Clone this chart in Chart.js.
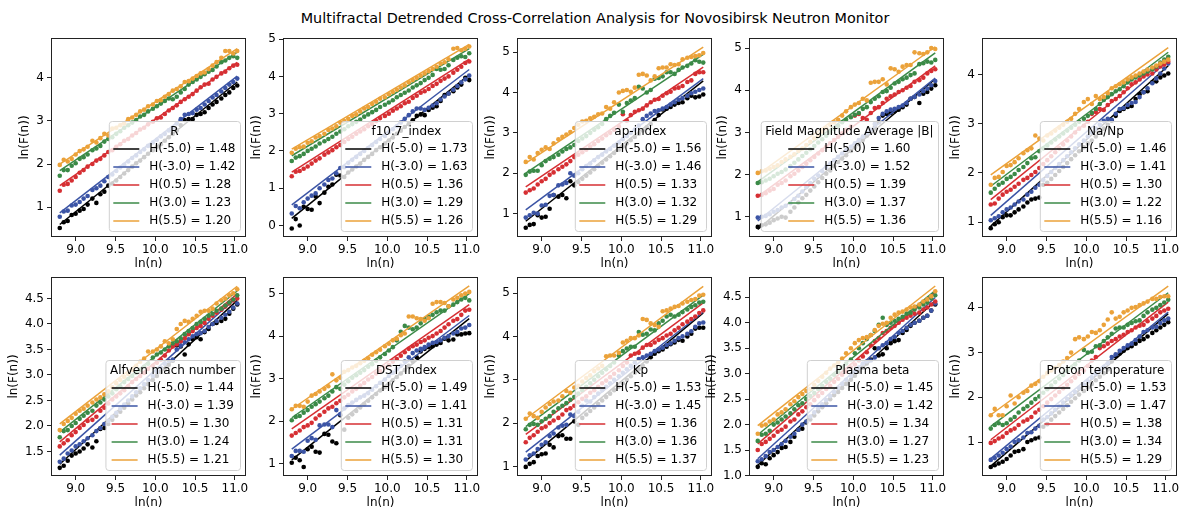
<!DOCTYPE html>
<html>
<head>
<meta charset="utf-8">
<script src="https://cdn.jsdelivr.net/npm/chart.js@4.4.1/dist/chart.umd.min.js"></script>
<style>
  html, body { margin: 0; padding: 0; background: #fff; overflow: hidden; }
  #wrap { position: relative; width: 1182px; height: 509px; }
  #wrap canvas { position: absolute; }
  #title { position: absolute; left: 4px; width: 1182px; top: 10px; text-align: center;
           font: 14.4px "DejaVu Sans"; color: #000; white-space: nowrap; }
</style>
</head>
<body>
<div id="wrap">
  <div id="title">Multifractal Detrended Cross-Correlation Analysis for Novosibirsk Neutron Monitor</div>
</div>
<script>
// scales n, as ln(n)
const lnN = [8.80, 8.85, 8.90, 8.95, 9.00, 9.05, 9.10, 9.15, 9.21, 9.26, 9.31, 9.36, 9.41, 9.46, 9.51,
             9.56, 9.61, 9.66, 9.71, 9.76, 9.81, 9.86, 9.91, 9.97, 10.02, 10.07, 10.12, 10.17, 10.22, 10.27,
             10.32, 10.37, 10.42, 10.47, 10.52, 10.57, 10.62, 10.67, 10.72, 10.77, 10.83, 10.88, 10.93, 10.98, 11.03];
const qOrders = ["-5.0", "-3.0", "0.5", "3.0", "5.5"];
const panelTitles = ["R", "f10.7_index", "ap-index", "Field Magnitude Average |B|", "Na/Np",
                     "Alfven mach number", "DST Index", "Kp", "Plasma beta", "Proton temperature"];

// ln(F(n)) for q = -5.0, -3.0, 0.5, 3.0, 5.5
const lnF_R = [
  [0.52,0.65,0.68,0.82,0.85,0.92,0.96,1.06,1.20,1.10,1.30,1.36,1.50,1.55,1.62,1.70,1.78,1.86,1.94,2.02,2.08,2.16,2.24,2.32,2.40,2.46,2.54,2.62,2.70,2.78,2.90,3.02,3.04,3.04,3.14,3.16,3.20,3.30,3.38,3.44,3.52,3.60,3.66,3.76,3.82],
  [0.78,0.90,0.92,1.04,1.06,1.12,1.20,1.26,1.40,1.44,1.50,1.60,1.70,1.76,1.84,1.92,1.98,2.06,2.14,2.20,2.28,2.34,2.42,2.50,2.56,2.64,2.70,2.78,2.84,2.94,3.04,3.14,3.16,3.18,3.26,3.30,3.38,3.46,3.54,3.60,3.68,3.76,3.84,3.90,3.98],
  [1.38,1.52,1.54,1.62,1.70,1.80,1.86,1.94,2.00,2.08,2.12,2.20,2.28,2.32,2.40,2.46,2.54,2.58,2.66,2.72,2.80,2.84,2.92,2.98,3.06,3.08,3.16,3.24,3.30,3.36,3.44,3.50,3.56,3.62,3.70,3.78,3.84,3.86,3.96,4.02,4.10,4.14,4.22,4.28,4.30],
  [1.73,1.86,1.86,1.96,2.02,2.12,2.16,2.22,2.32,2.36,2.42,2.52,2.58,2.62,2.70,2.76,2.84,2.90,2.96,3.02,3.10,3.14,3.22,3.28,3.34,3.40,3.46,3.52,3.50,3.56,3.66,3.74,3.84,3.90,3.96,4.02,4.08,4.14,4.18,4.26,4.36,4.40,4.46,4.50,4.46],
  [1.98,2.10,2.06,2.12,2.22,2.30,2.34,2.40,2.54,2.50,2.60,2.70,2.66,2.82,2.84,2.90,2.94,3.04,3.08,3.14,3.22,3.26,3.34,3.38,3.46,3.48,3.56,3.62,3.70,3.74,3.80,3.90,3.92,3.98,4.04,4.10,4.12,4.20,4.28,4.36,4.46,4.62,4.62,4.56,4.62]
];
const lnF_F107 = [
  [-0.08,0.17,0.00,0.50,0.44,0.42,0.78,0.60,0.88,1.04,1.10,1.36,1.34,1.30,1.42,1.50,1.58,1.66,1.76,1.84,1.92,2.02,2.10,2.20,2.28,2.36,2.46,2.54,2.64,2.72,2.82,2.94,2.98,2.96,3.10,3.16,3.20,3.34,3.50,3.54,3.60,3.70,3.78,3.96,3.90],
  [0.32,0.52,0.46,0.62,0.72,0.80,0.86,1.00,1.10,1.22,1.26,1.40,1.54,1.56,1.68,1.76,1.84,1.92,2.00,2.08,2.16,2.24,2.32,2.40,2.50,2.58,2.66,2.76,2.86,2.96,3.06,3.14,3.14,3.10,3.16,3.22,3.28,3.38,3.46,3.54,3.64,3.74,3.84,3.92,4.02],
  [1.32,1.44,1.46,1.52,1.58,1.66,1.74,1.80,1.90,1.96,2.02,2.10,2.16,2.24,2.32,2.38,2.46,2.52,2.58,2.66,2.72,2.80,2.88,2.94,3.00,3.08,3.14,3.20,3.28,3.32,3.42,3.48,3.56,3.60,3.66,3.74,3.80,3.88,3.94,4.00,4.10,4.18,4.26,4.36,4.40],
  [1.73,1.82,1.86,1.92,2.00,2.06,2.12,2.20,2.26,2.32,2.38,2.46,2.52,2.58,2.66,2.72,2.78,2.84,2.92,2.98,3.04,3.10,3.18,3.24,3.30,3.36,3.44,3.50,3.56,3.62,3.70,3.76,3.82,3.90,3.96,4.04,4.20,4.18,4.20,4.30,4.44,4.50,4.54,4.52,4.62],
  [1.95,2.06,2.10,2.12,2.22,2.26,2.36,2.40,2.46,2.56,2.60,2.66,2.76,2.80,2.86,2.94,2.98,3.06,3.14,3.18,3.26,3.32,3.40,3.44,3.52,3.58,3.64,3.70,3.76,3.84,3.90,3.96,4.02,4.08,4.14,4.20,4.26,4.34,4.38,4.46,4.74,4.76,4.70,4.74,4.80]
];
const lnF_Ap = [
  [0.65,0.72,0.74,0.96,0.90,0.92,1.12,1.46,1.42,1.46,1.38,1.80,1.70,1.78,1.86,1.94,2.02,2.10,2.18,2.26,2.34,2.42,2.50,2.58,2.66,2.74,2.82,2.90,2.98,3.06,3.14,3.22,3.32,3.44,3.58,3.60,3.64,3.70,3.74,3.76,3.86,3.92,3.88,3.90,3.95],
  [0.90,0.96,1.02,1.00,1.20,1.22,1.44,1.46,1.70,1.72,1.76,2.00,1.94,2.00,2.10,2.18,2.24,2.32,2.40,2.46,2.54,2.60,2.68,2.76,2.84,2.92,3.00,3.08,3.18,3.34,3.42,3.48,3.54,3.56,3.60,3.64,3.70,3.76,3.82,3.86,3.92,3.98,4.02,4.06,4.10],
  [1.52,1.58,1.62,1.72,1.80,1.86,1.96,2.02,2.10,2.16,2.22,2.30,2.40,2.46,2.52,2.58,2.66,2.72,2.80,2.86,2.94,3.00,3.08,3.16,3.46,3.30,3.44,3.52,3.56,3.60,3.68,3.76,3.82,3.84,3.92,3.98,4.02,4.10,4.12,4.16,4.26,4.30,4.46,4.50,4.50],
  [1.96,2.04,2.06,2.06,2.20,2.30,2.36,2.40,2.46,2.54,2.60,2.64,2.70,2.80,2.86,2.92,3.00,3.08,3.14,3.22,3.34,3.42,3.50,3.70,3.52,3.74,3.80,3.86,4.14,4.10,4.00,4.06,4.34,4.36,4.40,4.50,4.50,4.46,4.56,4.62,4.66,4.72,4.80,4.76,4.74],
  [2.28,2.40,2.34,2.50,2.58,2.64,2.60,2.74,2.84,2.90,2.96,3.02,3.12,3.20,3.28,3.30,3.36,3.40,3.46,3.48,3.64,3.60,3.76,4.00,4.04,4.06,4.02,4.12,4.44,4.46,4.42,4.30,4.40,4.60,4.62,4.62,4.70,4.68,4.70,4.82,4.86,4.88,4.90,4.92,4.98]
];
const lnF_B = [
  [0.76,0.80,0.82,0.86,0.92,0.96,1.00,0.98,1.12,1.22,1.34,1.44,1.52,1.62,1.72,1.82,1.92,2.02,2.10,2.20,2.30,2.38,2.46,2.56,2.64,2.72,2.82,2.92,3.02,3.12,3.24,3.40,3.44,3.46,3.50,3.54,3.60,3.66,3.80,3.84,3.70,3.92,3.96,4.04,4.12],
  [0.98,1.00,1.02,1.06,1.12,1.16,1.22,1.26,1.32,1.42,1.50,1.60,1.70,1.80,1.90,1.98,2.08,2.18,2.26,2.34,2.42,2.50,2.58,2.66,2.74,2.82,2.90,2.98,3.06,3.20,3.34,3.44,3.50,3.54,3.56,3.60,3.64,3.70,3.80,3.84,3.90,3.98,4.04,4.12,4.22],
  [1.50,1.52,1.56,1.62,1.66,1.76,1.80,1.86,1.96,2.02,2.10,2.18,2.26,2.34,2.42,2.50,2.58,2.66,2.74,2.82,2.90,2.98,3.06,3.14,3.40,3.44,3.34,3.30,3.46,3.58,3.60,3.70,3.80,3.86,3.90,3.96,4.00,4.06,4.10,4.20,4.24,4.30,4.40,4.46,4.50],
  [1.80,1.82,1.86,1.90,1.96,2.02,2.06,2.12,2.20,2.28,2.36,2.44,2.52,2.60,2.68,2.76,2.84,2.92,3.00,3.08,3.16,3.24,3.30,3.36,3.42,3.46,3.56,3.60,3.72,3.80,3.86,3.96,3.98,4.06,4.16,4.20,4.26,4.30,4.36,4.40,4.62,4.64,4.68,4.66,4.72],
  [2.04,2.08,2.10,2.14,2.18,2.22,2.30,2.36,2.42,2.48,2.56,2.62,2.70,2.78,2.86,2.94,3.02,3.10,3.18,3.24,3.30,3.40,3.50,3.60,3.66,3.70,3.80,3.76,4.18,4.20,4.20,4.26,4.14,4.52,4.50,4.44,4.56,4.60,4.60,4.90,4.88,4.86,4.90,5.00,4.98]
];
const lnF_NaNp = [
  [0.88,0.96,1.00,1.10,1.14,1.14,1.20,1.26,1.32,1.40,1.46,1.48,1.50,1.76,1.80,1.88,1.96,2.04,2.12,2.20,2.28,2.36,2.44,2.52,2.60,2.66,2.74,2.82,2.90,2.98,3.06,3.16,3.26,3.30,3.34,3.36,3.50,3.60,3.64,3.66,3.84,3.86,3.94,3.98,4.02],
  [1.04,1.08,1.12,1.20,1.26,1.30,1.36,1.42,1.46,1.56,1.62,1.70,1.76,1.86,1.94,2.02,2.10,2.18,2.26,2.34,2.42,2.50,2.58,2.66,2.74,2.82,2.90,2.98,3.06,3.10,3.08,3.20,3.30,3.32,3.38,3.42,3.44,3.54,3.64,3.72,3.82,3.92,4.02,4.12,4.22],
  [1.36,1.38,1.48,1.56,1.62,1.66,1.72,1.78,1.86,1.90,1.96,2.02,2.10,2.18,2.26,2.34,2.42,2.50,2.58,2.66,2.74,2.82,2.90,2.96,3.04,3.20,3.24,3.30,3.28,3.38,3.46,3.50,3.56,3.64,3.72,3.80,3.84,3.90,3.96,4.00,4.02,4.10,4.16,4.20,4.26],
  [1.60,1.68,1.76,1.80,1.88,1.92,1.98,2.06,2.12,2.20,2.30,2.32,2.44,2.50,2.56,2.62,2.68,2.74,2.80,2.86,2.92,2.98,3.04,3.10,3.16,3.22,3.30,3.40,3.48,3.54,3.60,3.66,3.70,3.76,3.84,3.90,3.94,3.98,4.02,4.06,4.10,4.16,4.24,4.30,4.36],
  [1.76,1.90,1.92,2.02,2.14,2.16,2.22,2.30,2.40,2.46,2.50,2.76,2.70,2.66,2.76,2.80,2.86,2.92,2.98,3.04,3.10,3.20,3.30,3.44,3.50,3.40,3.56,3.50,3.54,3.62,3.72,3.76,3.80,3.84,3.90,3.94,3.98,4.02,4.06,4.10,4.14,4.18,4.22,4.26,4.30]
];
const lnF_Alfven = [
  [1.18,1.22,1.32,1.42,1.46,1.50,1.56,1.64,1.58,1.70,1.94,1.96,2.04,2.12,2.20,2.28,2.36,2.44,2.52,2.60,2.66,2.74,2.82,2.90,2.98,3.06,3.12,3.20,3.28,3.58,3.56,3.40,3.60,3.70,3.74,3.70,3.84,3.90,4.00,4.02,4.06,4.10,4.20,4.30,4.38],
  [1.30,1.36,1.46,1.52,1.60,1.64,1.70,1.76,1.82,1.90,1.96,2.04,2.10,2.18,2.26,2.34,2.42,2.50,2.58,2.66,2.74,2.82,2.90,2.98,3.06,3.14,3.22,3.28,3.30,3.50,3.58,3.64,3.70,3.76,3.80,3.82,3.86,3.94,4.00,4.06,4.12,4.18,4.24,4.32,4.40],
  [1.60,1.66,1.72,1.82,1.88,1.96,2.02,2.10,2.12,2.18,2.30,2.36,2.44,2.52,2.58,2.64,2.70,2.78,2.86,2.92,2.98,3.04,3.12,3.18,3.24,3.30,3.38,3.48,3.56,3.60,3.66,3.72,3.80,3.86,3.92,3.96,4.02,4.10,4.16,4.22,4.28,4.34,4.40,4.46,4.50],
  [1.78,1.90,1.92,2.00,2.06,2.14,2.20,2.26,2.30,2.40,2.46,2.52,2.58,2.64,2.72,2.78,2.86,2.92,2.98,3.04,3.10,3.16,3.22,3.34,3.40,3.44,3.50,3.56,3.62,3.66,3.72,3.80,3.86,3.92,4.00,4.04,4.10,4.16,4.20,4.26,4.30,4.36,4.42,4.48,4.56],
  [1.92,2.04,2.10,2.16,2.24,2.30,2.34,2.40,2.46,2.52,2.56,2.62,2.68,2.76,2.84,2.90,2.96,3.02,3.10,3.18,3.26,3.32,3.46,3.46,3.50,3.56,3.66,3.62,3.70,3.90,4.00,4.06,4.04,4.10,4.16,4.24,4.26,4.26,4.30,4.40,4.46,4.50,4.56,4.60,4.68]
];
const lnF_DST = [
  [1.02,1.14,1.08,0.92,1.34,1.40,1.28,1.26,1.70,1.68,1.52,1.48,2.14,1.80,2.08,2.16,2.24,2.32,2.40,2.48,2.56,2.64,2.72,2.80,2.88,2.96,3.04,3.12,3.20,3.30,3.40,3.50,3.64,3.70,3.74,3.76,3.80,3.84,3.94,3.90,3.92,4.04,4.04,4.06,4.07],
  [1.18,1.30,1.30,1.28,1.54,1.60,1.56,1.90,1.92,1.92,1.86,2.26,2.16,2.30,2.38,2.44,2.50,2.56,2.60,2.66,2.74,2.82,2.90,2.98,3.06,3.14,3.22,3.30,3.40,3.50,3.60,3.66,3.70,3.74,3.80,3.84,3.86,3.90,3.96,4.00,4.06,4.10,4.18,4.20,4.26],
  [1.66,1.72,1.78,1.86,1.90,1.96,2.06,2.14,2.22,2.30,2.34,2.42,2.48,2.56,2.62,2.70,2.76,2.84,2.90,2.98,3.04,3.12,3.18,3.26,3.32,3.40,3.46,3.54,3.62,3.70,3.76,3.80,3.86,3.90,3.96,4.00,4.06,4.12,4.20,4.28,4.36,4.40,4.50,4.60,4.62],
  [2.02,2.10,2.12,2.20,2.26,2.34,2.40,2.46,2.54,2.60,2.70,2.80,2.76,2.86,2.94,3.02,3.08,3.14,3.20,3.28,3.34,3.42,3.50,3.58,3.66,3.74,3.90,4.10,4.24,4.20,4.16,4.20,4.30,4.40,4.46,4.50,4.56,4.60,4.60,4.70,4.74,4.80,4.86,4.90,4.84],
  [2.28,2.36,2.36,2.34,2.46,2.60,2.64,2.70,2.76,2.82,3.10,2.96,3.02,3.16,3.20,3.26,3.30,3.36,3.42,3.48,3.56,3.62,3.68,3.76,3.82,3.90,3.94,4.02,4.06,4.46,4.46,4.42,4.40,4.36,4.42,4.76,4.80,4.80,4.78,4.70,4.86,4.90,4.96,5.00,5.04]
];
const lnF_Kp = [
  [0.99,1.06,1.10,1.24,1.28,1.30,1.50,1.44,1.70,1.72,1.64,1.64,2.04,1.96,2.12,2.20,2.28,2.36,2.44,2.52,2.60,2.68,2.76,2.84,2.92,3.00,3.08,3.16,3.24,3.32,3.42,3.52,3.60,3.66,3.70,3.76,3.82,3.86,3.92,3.90,4.00,4.06,4.18,4.20,4.20],
  [1.16,1.26,1.30,1.40,1.50,1.56,1.70,1.76,1.90,1.94,1.96,2.20,2.16,2.26,2.40,2.52,2.50,2.60,2.68,2.76,2.84,2.92,3.00,3.08,3.16,3.24,3.32,3.40,3.48,3.52,3.56,3.60,3.66,3.70,3.74,3.80,3.84,3.90,3.96,4.00,4.06,4.12,4.22,4.30,4.32],
  [1.56,1.66,1.72,1.80,1.88,1.92,2.00,2.06,2.12,2.20,2.30,2.34,2.40,2.48,2.56,2.62,2.70,2.76,2.84,2.92,2.98,3.06,3.14,3.22,3.32,3.40,3.56,3.60,3.62,3.74,3.80,3.80,3.86,3.92,3.96,4.02,4.06,4.14,4.20,4.28,4.34,4.40,4.46,4.54,4.60],
  [1.86,1.96,1.98,1.96,2.04,2.10,2.16,2.26,2.34,2.40,2.46,2.54,2.60,2.68,2.76,2.84,2.92,3.00,3.08,3.16,3.24,3.32,3.40,3.56,3.66,3.72,3.76,3.76,4.10,4.04,4.06,4.16,4.14,4.30,4.36,4.46,4.50,4.46,4.50,4.56,4.62,4.68,4.72,4.78,4.80],
  [2.10,2.22,2.16,2.12,2.26,2.36,2.44,2.50,2.52,2.62,2.74,2.70,2.82,2.86,2.96,3.04,3.10,3.20,3.26,3.32,3.54,3.56,3.56,3.62,3.86,3.90,3.96,3.96,4.02,4.40,4.38,4.30,4.26,4.22,4.58,4.60,4.64,4.68,4.70,4.76,4.80,4.84,4.86,4.94,4.96]
];
const lnF_Beta = [
  [1.17,1.24,1.22,1.34,1.40,1.46,1.54,1.56,1.66,1.76,1.90,1.92,2.04,2.10,2.18,2.26,2.34,2.42,2.50,2.58,2.64,2.72,2.80,2.88,2.96,3.04,3.12,3.20,3.28,3.50,3.36,3.38,3.50,3.60,3.64,3.66,3.80,3.86,3.94,4.00,4.04,4.10,4.14,4.24,4.36],
  [1.28,1.32,1.38,1.46,1.50,1.56,1.62,1.68,1.76,1.82,1.90,2.00,2.06,2.16,2.24,2.32,2.40,2.48,2.56,2.64,2.72,2.80,2.88,2.96,3.04,3.12,3.20,3.24,3.26,3.32,3.50,3.56,3.60,3.68,3.72,3.80,3.84,3.90,3.96,4.00,4.04,4.10,4.14,4.24,4.38],
  [1.50,1.62,1.66,1.72,1.78,1.86,1.90,1.96,2.06,2.10,2.20,2.26,2.34,2.40,2.48,2.56,2.62,2.70,2.76,2.84,2.90,2.98,3.04,3.12,3.18,3.26,3.34,3.42,3.56,3.64,3.70,3.80,3.84,3.90,3.94,4.00,4.06,4.10,4.14,4.18,4.20,4.26,4.30,4.36,4.42],
  [1.68,1.80,1.82,1.88,2.00,2.04,2.10,2.16,2.22,2.30,2.38,2.42,2.50,2.56,2.62,2.70,2.76,2.84,2.90,2.98,3.04,3.12,3.20,3.28,3.40,3.50,3.60,3.68,3.76,3.84,3.96,4.10,3.96,4.00,4.04,4.08,4.12,4.18,4.20,4.26,4.30,4.36,4.40,4.48,4.54],
  [1.82,1.98,2.00,2.06,2.10,2.20,2.24,2.30,2.40,2.46,2.54,2.60,2.66,2.70,2.78,2.86,2.94,3.02,3.10,3.16,3.22,3.30,3.40,3.50,3.60,3.66,3.70,3.72,3.76,3.86,3.94,3.98,4.00,4.10,4.16,4.20,4.22,4.26,4.30,4.32,4.36,4.42,4.46,4.52,4.62]
];
const lnF_Tp = [
  [0.44,0.48,0.52,0.56,0.62,0.70,0.78,0.80,0.84,1.00,1.04,1.08,1.10,1.34,1.40,1.50,1.58,1.66,1.74,1.82,1.90,1.98,2.06,2.14,2.22,2.30,2.38,2.46,2.54,2.62,2.80,2.92,2.98,3.04,3.10,3.14,3.20,3.26,3.30,3.36,3.44,3.50,3.56,3.62,3.68],
  [0.60,0.64,0.70,0.76,0.84,0.90,1.00,1.04,1.10,1.20,1.22,1.30,1.36,1.50,1.56,1.64,1.72,1.80,1.88,1.96,2.04,2.12,2.20,2.28,2.36,2.44,2.52,2.60,2.68,2.76,2.90,2.96,3.04,3.10,3.16,3.20,3.28,3.36,3.46,3.50,3.56,3.58,3.66,3.72,3.76],
  [0.98,1.02,1.08,1.12,1.20,1.26,1.30,1.38,1.46,1.50,1.56,1.66,1.72,1.80,1.88,1.96,2.04,2.12,2.20,2.28,2.36,2.44,2.52,2.60,2.70,2.82,2.90,3.10,3.14,3.20,3.26,3.30,3.36,3.40,3.46,3.50,3.56,3.60,3.62,3.70,3.76,3.82,3.90,3.94,3.98],
  [1.30,1.38,1.42,1.38,1.42,1.50,1.56,1.66,1.74,1.80,1.88,1.96,2.02,2.10,2.18,2.26,2.34,2.42,2.50,2.58,2.66,2.74,2.82,3.06,3.00,3.02,3.14,3.16,3.26,3.34,3.42,3.54,3.56,3.56,3.62,3.66,3.70,3.72,3.82,3.90,3.96,4.00,4.06,4.12,4.18],
  [1.60,1.74,1.60,1.60,1.80,2.04,1.86,2.00,2.10,2.14,2.26,2.30,2.36,2.46,2.54,2.60,2.66,2.72,2.80,2.88,3.00,3.30,3.34,3.30,3.36,3.46,3.44,3.50,3.62,3.74,3.90,3.76,3.80,3.90,3.94,4.00,4.02,4.06,4.10,4.14,4.20,4.20,4.24,4.26,4.26]
];

// fitted exponents H(q) and fit value at the first ln(n)
const hurst_R = [1.48, 1.42, 1.28, 1.23, 1.20];
const hurst_F107 = [1.73, 1.63, 1.36, 1.29, 1.26];
const hurst_Ap = [1.56, 1.46, 1.33, 1.32, 1.29];
const hurst_B = [1.60, 1.52, 1.39, 1.37, 1.36];
const hurst_NaNp = [1.46, 1.41, 1.30, 1.22, 1.16];
const hurst_Alfven = [1.44, 1.39, 1.30, 1.24, 1.21];
const hurst_DST = [1.49, 1.41, 1.31, 1.31, 1.30];
const hurst_Kp = [1.53, 1.45, 1.36, 1.36, 1.37];
const hurst_Beta = [1.45, 1.42, 1.34, 1.27, 1.23];
const hurst_Tp = [1.53, 1.47, 1.38, 1.34, 1.29];

const fit0_R = [0.60, 0.87, 1.50, 1.85, 2.00];
const fit0_F107 = [0.19, 0.55, 1.43, 1.87, 2.05];
const fit0_Ap = [0.81, 1.09, 1.66, 2.00, 2.25];
const fit0_B = [0.70, 0.90, 1.48, 1.83, 2.00];
const fit0_NaNp = [0.92, 1.14, 1.46, 1.73, 1.96];
const fit0_Alfven = [1.25, 1.43, 1.69, 1.88, 2.04];
const fit0_DST = [1.09, 1.34, 1.82, 2.08, 2.28];
const fit0_Kp = [1.13, 1.33, 1.74, 1.92, 2.10];
const fit0_Beta = [1.20, 1.33, 1.62, 1.80, 1.98];
const fit0_Tp = [0.46, 0.63, 1.05, 1.35, 1.61];

const allLnF = [lnF_R, lnF_F107, lnF_Ap, lnF_B, lnF_NaNp, lnF_Alfven, lnF_DST, lnF_Kp, lnF_Beta, lnF_Tp];
const allHurst = [hurst_R, hurst_F107, hurst_Ap, hurst_B, hurst_NaNp, hurst_Alfven, hurst_DST, hurst_Kp, hurst_Beta, hurst_Tp];
const allFit0 = [fit0_R, fit0_F107, fit0_Ap, fit0_B, fit0_NaNp, fit0_Alfven, fit0_DST, fit0_Kp, fit0_Beta, fit0_Tp];

// axis setup
const yRanges = [[0.31, 4.92], [-0.31, 5.03], [0.42, 5.35], [0.52, 5.24], [0.70, 4.74],
                 [1.02, 4.92], [0.71, 5.39], [0.78, 5.37], [0.99, 4.90], [0.24, 4.69]];
const ySteps = [1, 1, 1, 1, 1, 0.5, 1, 1, 0.5, 1];
const colors = ["#000000", "#3b54a5", "#d62f33", "#3b8a47", "#eba23a"];
const FONT = "DejaVu Sans";

// layout
const colLeft = [51, 283, 517, 749, 982];
const rowTop = [38, 277];
const plotW = 195, plotH = 199;
const padL = 51, padT = 14, padR = 15, padB = 40;

Chart.defaults.font.family = FONT;
Chart.defaults.font.size = 12;
Chart.defaults.color = "#000";

// frame, axis labels and the boxed legend in the lower right
const decorPlugin = {
  id: "decor",
  afterDatasetsDraw(chart, args, opts) {
    const ctx = chart.ctx;
    const a = chart.chartArea;
    ctx.save();

    ctx.strokeStyle = "#222";
    ctx.lineWidth = 1;
    ctx.strokeRect(Math.round(a.left) + 0.5, Math.round(a.top) + 0.5,
                   Math.round(a.right - a.left) - 1, Math.round(a.bottom - a.top) - 1);

    ctx.font = `12px "${FONT}"`;
    ctx.fillStyle = "#000";
    ctx.textAlign = "center";
    ctx.textBaseline = "middle";
    ctx.fillText("ln(n)", (a.left + a.right) / 2, a.bottom + 27);

    const widest = Math.max(...chart.scales.y.ticks.map(t => ctx.measureText(t.label).width));
    ctx.save();
    ctx.translate(a.left - 7 - widest - 11, (a.top + a.bottom) / 2);
    ctx.rotate(-Math.PI / 2);
    ctx.fillText("ln(F(n))", 0, 0);
    ctx.restore();

    // legend
    const labels = opts.labels;
    const textW = Math.max(...labels.map(s => ctx.measureText(s).width));
    const titleW = ctx.measureText(opts.title).width;
    const blockW = 36 + textW;
    const boxW = Math.max(titleW, blockW) + 9;
    const boxH = 110;
    const bx = a.right - 6 - boxW;
    const by = a.bottom - 6 - boxH;

    ctx.beginPath();
    ctx.roundRect(bx + 0.5, by + 0.5, boxW, boxH, 3);
    ctx.fillStyle = "rgba(255,255,255,0.8)";
    ctx.fill();
    ctx.strokeStyle = "#d0d0d0";
    ctx.stroke();

    ctx.fillStyle = "#000";
    ctx.fillText(opts.title, bx + boxW / 2, by + 11);

    const left = bx + (boxW - blockW) / 2;
    ctx.textAlign = "left";
    labels.forEach((s, k) => {
      const yy = by + 28 + k * 18;
      ctx.strokeStyle = opts.colors[k];
      ctx.lineWidth = 1.5;
      ctx.beginPath();
      ctx.moveTo(left, yy);
      ctx.lineTo(left + 26, yy);
      ctx.stroke();
      ctx.fillStyle = "#000";
      ctx.fillText(s, left + 36, yy);
    });
    ctx.restore();
  }
};

function makePanel(i) {
  const row = Math.floor(i / 5), col = i % 5;
  const canvas = document.createElement("canvas");
  canvas.width = padL + plotW + padR;
  canvas.height = padT + plotH + padB;
  canvas.style.left = (colLeft[col] - padL) + "px";
  canvas.style.top = (rowTop[row] - padT) + "px";
  document.getElementById("wrap").appendChild(canvas);

  const lnF = allLnF[i], hurst = allHurst[i], fit0 = allFit0[i];
  const x0 = lnN[0], x1 = lnN[lnN.length - 1];
  const datasets = [];
  lnF.forEach((series, k) => {
    datasets.push({
      data: series.map((v, j) => ({ x: lnN[j], y: v })),
      backgroundColor: colors[k],
      borderColor: colors[k],
      pointRadius: 2.3,
      pointBorderWidth: 0,
      showLine: false,
      order: 20 - 2 * k
    });
    datasets.push({
      data: [{ x: x0, y: fit0[k] }, { x: x1, y: fit0[k] + hurst[k] * (x1 - x0) }],
      borderColor: colors[k],
      borderWidth: 1.5,
      pointRadius: 0,
      showLine: true,
      fill: false,
      order: 19 - 2 * k
    });
  });

  const step = ySteps[i];
  new Chart(canvas, {
    type: "scatter",
    data: { datasets },
    options: {
      responsive: false,
      animation: false,
      events: [],
      layout: { padding: { left: 0, top: padT, right: padR, bottom: 0 } },
      plugins: {
        legend: { display: false },
        tooltip: { enabled: false },
        decor: {
          title: panelTitles[i],
          colors,
          labels: qOrders.map((q, k) => `H(${q}) = ${hurst[k].toFixed(2)}`)
        }
      },
      scales: {
        x: {
          type: "linear", min: 8.69, max: 11.14,
          ticks: { stepSize: 0.5, includeBounds: false, autoSkip: false, maxRotation: 0, padding: 2,
                   callback: v => v.toFixed(1) },
          grid: { display: true, drawOnChartArea: false, drawTicks: true, tickLength: 4, tickColor: "#222" },
          border: { display: false },
          afterFit: s => { s.height = padB; }
        },
        y: {
          type: "linear", min: yRanges[i][0], max: yRanges[i][1],
          ticks: { stepSize: step, includeBounds: false, autoSkip: false, padding: 3,
                   callback: v => step === 1 ? String(Math.round(v)) : v.toFixed(1) },
          grid: { display: true, drawOnChartArea: false, drawTicks: true, tickLength: 4, tickColor: "#222" },
          border: { display: false },
          afterFit: s => { s.width = padL; }
        }
      }
    },
    plugins: [decorPlugin]
  });
}

for (let i = 0; i < 10; i++) makePanel(i);
</script>
</body>
</html>
